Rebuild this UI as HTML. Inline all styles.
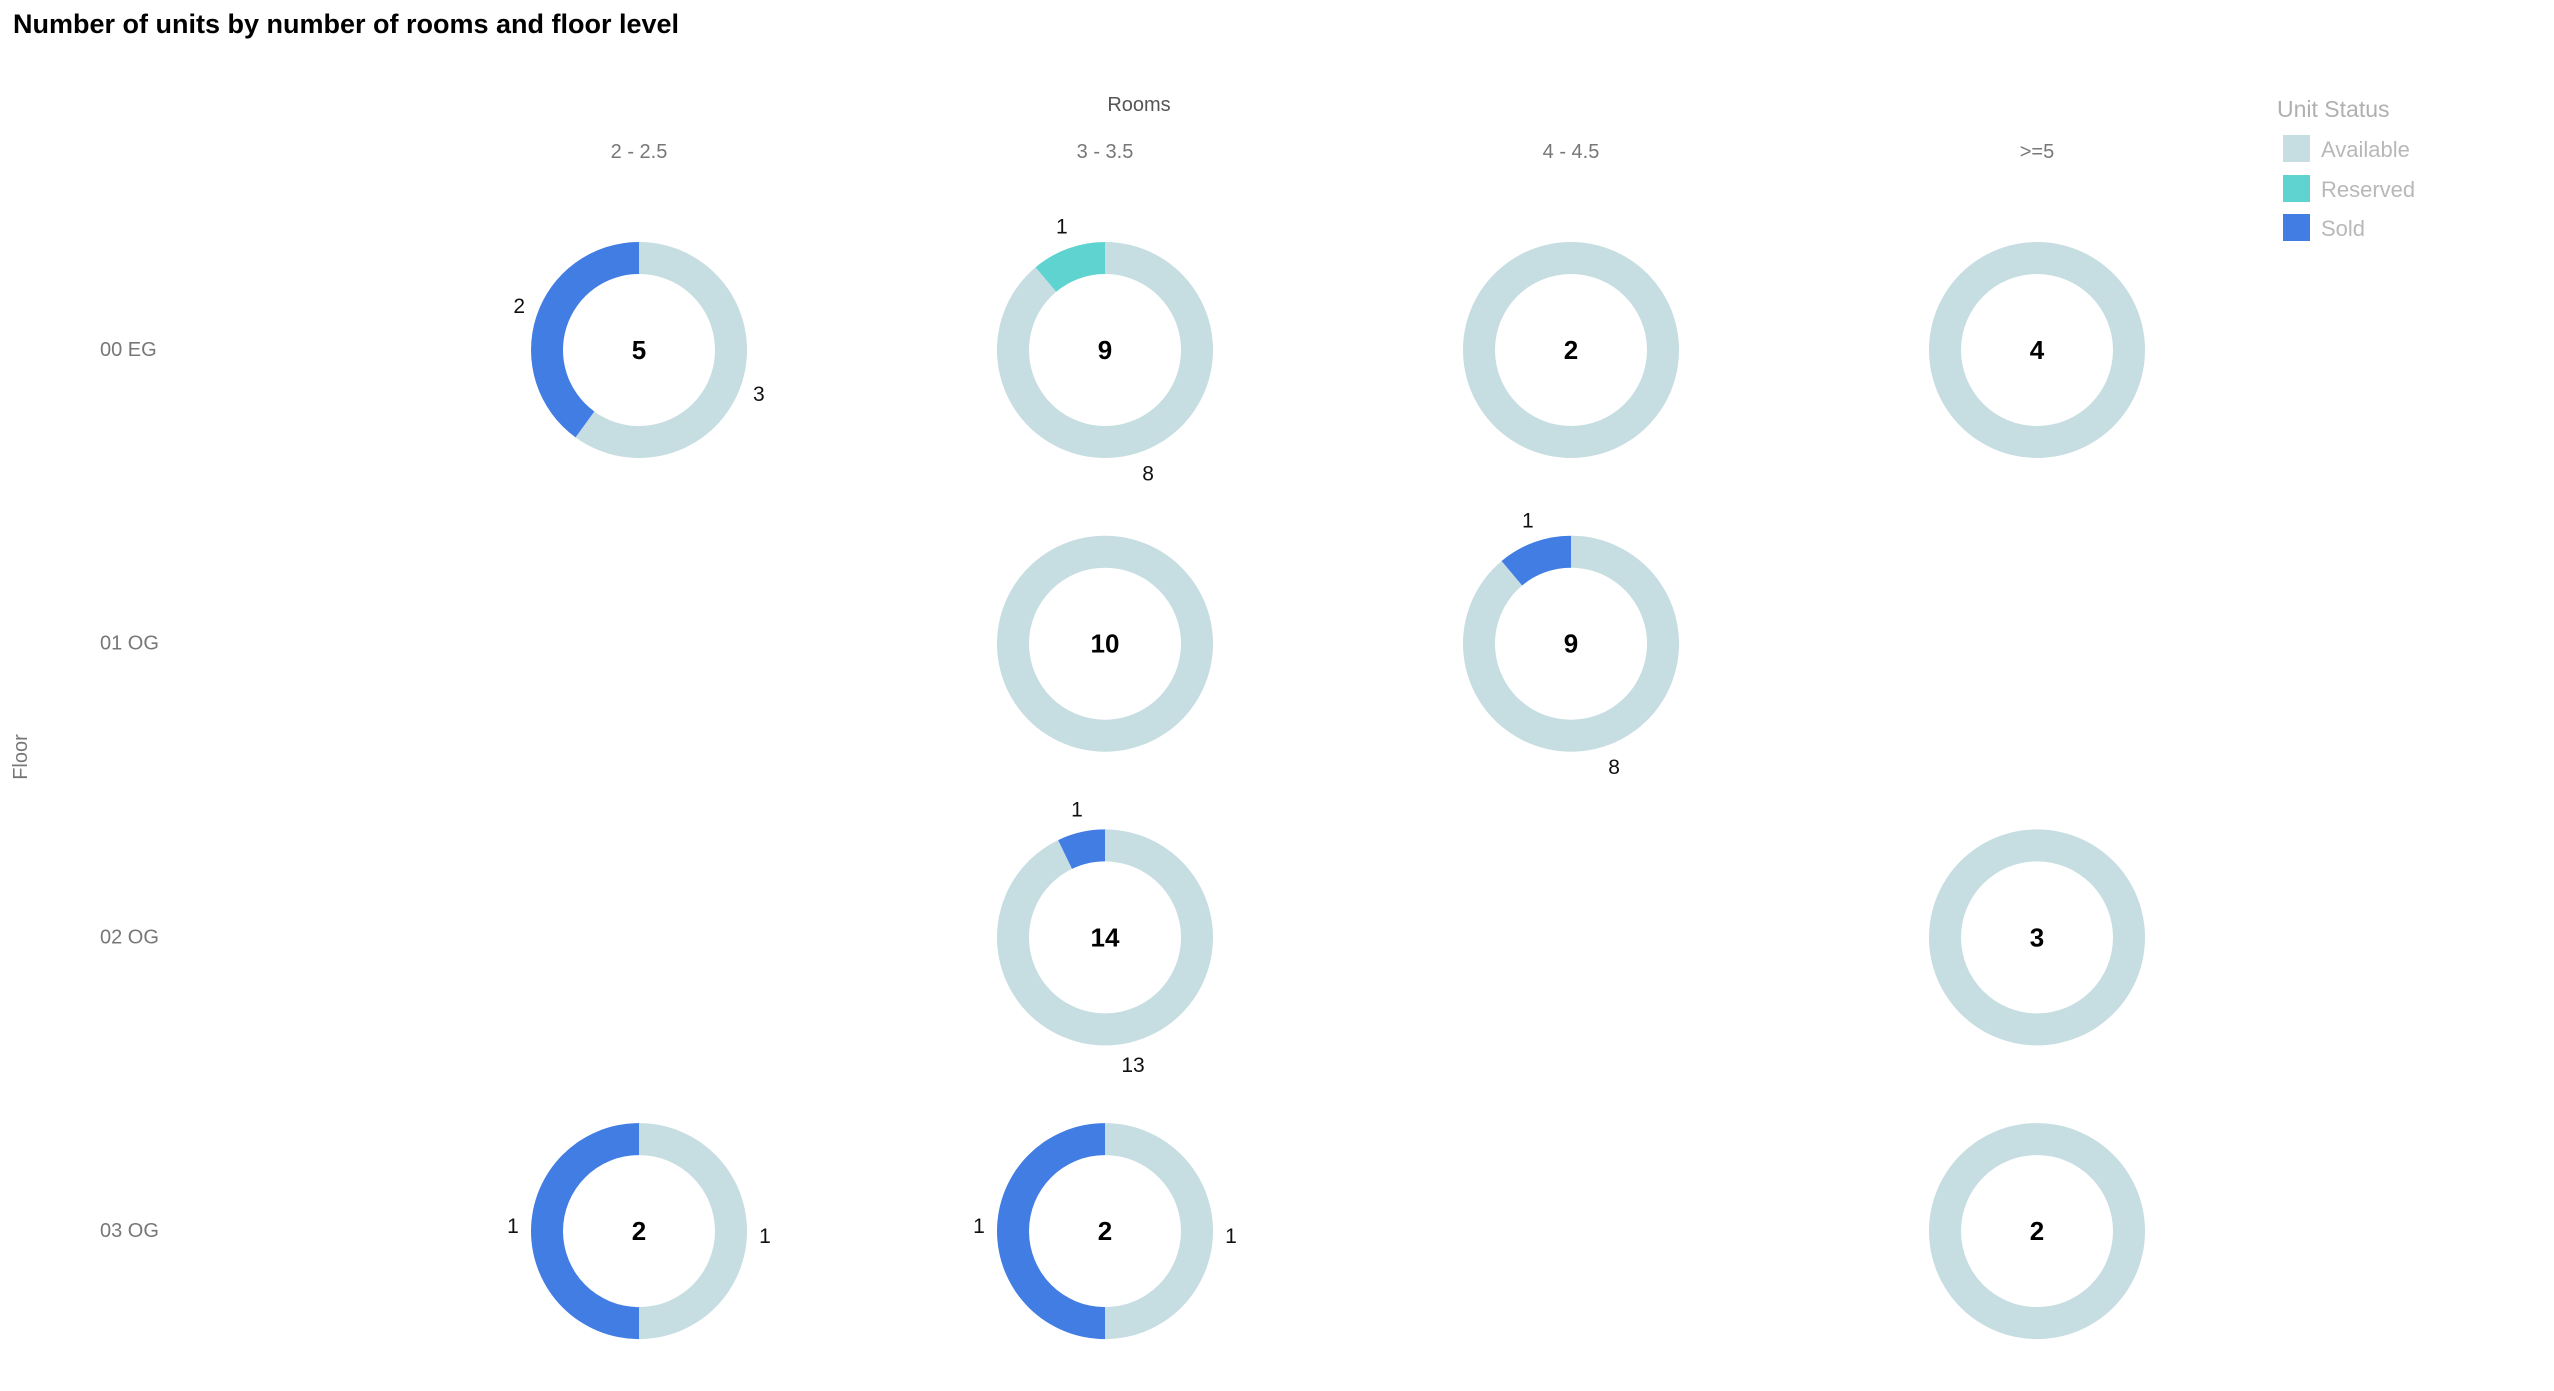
<!DOCTYPE html>
<html><head><meta charset="utf-8">
<style>
body{margin:0;background:#fff;}
svg{display:block;font-family:"Liberation Sans",sans-serif;}
</style></head>
<body>
<svg id="chart" width="2554" height="1391" viewBox="0 0 2554 1391">
<text x="13" y="33" font-size="27" font-weight="bold" fill="#000">Number of units by number of rooms and floor level</text>
<text x="1139" y="111" font-size="20" fill="#555" text-anchor="middle">Rooms</text>
<text transform="translate(27,757) rotate(-90)" font-size="20" fill="#777" text-anchor="middle">Floor</text>
<g transform="translate(-24,0)">
<text x="2301" y="117" font-size="23" fill="#b0b0b0">Unit Status</text>
<rect x="2307" y="135" width="27" height="27" fill="#c6dde1"/>
<text x="2345" y="157" font-size="22" fill="#b8b8b8">Available</text>
<rect x="2307" y="175" width="27" height="27" fill="#5fd3cf"/>
<text x="2345" y="197" font-size="22" fill="#b8b8b8">Reserved</text>
<rect x="2307" y="214" width="27" height="27" fill="#427de4"/>
<text x="2345" y="236" font-size="22" fill="#b8b8b8">Sold</text>
</g>
<g id="marks"></g>
</svg>
<script>
const roomCats = ["2 - 2.5","3 - 3.5","4 - 4.5",">=5"];
const floorCats = ["00 EG","01 OG","02 OG","03 OG"];
// [floorIndex, roomIndex]
const cellFloor = [0,0,0,0, 1,1, 2,2, 3,3,3];
const cellRoom  = [0,1,2,3, 1,2, 1,3, 0,1,3];
const available = [3,8,2,4, 10,8, 13,3, 1,1,2];
const reserved  = [0,1,0,0, 0,0, 0,0, 0,0,0];
const sold      = [2,0,0,0, 0,1, 1,0, 1,1,0];

const colX = i => 639 + i*466;
const rowY = i => 350 + i*293.7;
const R = 108, r = 76, RL = 126;
const colors = {available:"#c6dde1", reserved:"#5fd3cf", sold:"#427de4"};
const NS = "http://www.w3.org/2000/svg";
const g = document.getElementById("marks");

roomCats.forEach((c,i)=>{
  const t=document.createElementNS(NS,"text");
  t.setAttribute("x",colX(i));t.setAttribute("y",158);
  t.setAttribute("font-size","20");t.setAttribute("fill","#777");t.setAttribute("text-anchor","middle");
  
  
  t.textContent=c;g.appendChild(t);
});
floorCats.forEach((c,i)=>{
  const t=document.createElementNS(NS,"text");
  t.setAttribute("x",100);t.setAttribute("y",rowY(i)+6);
  t.setAttribute("font-size","20");t.setAttribute("fill","#777");
  
  
  t.textContent=c;g.appendChild(t);
});

function pt(cx,cy,rad,a){return [cx+rad*Math.sin(a), cy-rad*Math.cos(a)];}
function arc(cx,cy,a0,a1){
  if(a1-a0>=2*Math.PI-1e-6){
    return `M${cx},${cy-R}A${R},${R} 0 1 1 ${cx},${cy+R}A${R},${R} 0 1 1 ${cx},${cy-R}Z M${cx},${cy-r}A${r},${r} 0 1 0 ${cx},${cy+r}A${r},${r} 0 1 0 ${cx},${cy-r}Z`;
  }
  const large=(a1-a0)>Math.PI?1:0;
  const [x0,y0]=pt(cx,cy,R,a0),[x1,y1]=pt(cx,cy,R,a1),[x2,y2]=pt(cx,cy,r,a1),[x3,y3]=pt(cx,cy,r,a0);
  return `M${x0},${y0}A${R},${R} 0 ${large} 1 ${x1},${y1}L${x2},${y2}A${r},${r} 0 ${large} 0 ${x3},${y3}Z`;
}

cellFloor.forEach((f,k)=>{
  const cx=colX(cellRoom[k]), cy=rowY(f);
  const segs=[["available",available[k]],["sold",sold[k]],["reserved",reserved[k]]].filter(s=>s[1]>0);
  const total=segs.reduce((a,s)=>a+s[1],0);
  let a=0;
  segs.forEach(([name,v])=>{
    const a1=a+v/total*2*Math.PI;
    const p=document.createElementNS(NS,"path");
    p.setAttribute("d",arc(cx,cy,a,a1));
    p.setAttribute("fill",colors[name]);
    p.setAttribute("fill-rule","evenodd");
    
    
    g.appendChild(p);
    if(segs.length>1){
      const [lx,ly]=pt(cx,cy,RL,(a+a1)/2);
      const dy = name==="available" ? 12 : 2;
      const t=document.createElementNS(NS,"text");
      t.setAttribute("x",lx);t.setAttribute("y",ly+dy);
      t.setAttribute("font-size","21");t.setAttribute("fill","#111");t.setAttribute("text-anchor","middle");
      
      
      t.textContent=v;g.appendChild(t);
    }
    a=a1;
  });
  const t=document.createElementNS(NS,"text");
  t.setAttribute("x",cx);t.setAttribute("y",cy+9);
  t.setAttribute("font-size","26");t.setAttribute("font-weight","bold");t.setAttribute("fill","#000");t.setAttribute("text-anchor","middle");
  
  
  t.textContent=total;g.appendChild(t);
});
</script>
</body></html>
